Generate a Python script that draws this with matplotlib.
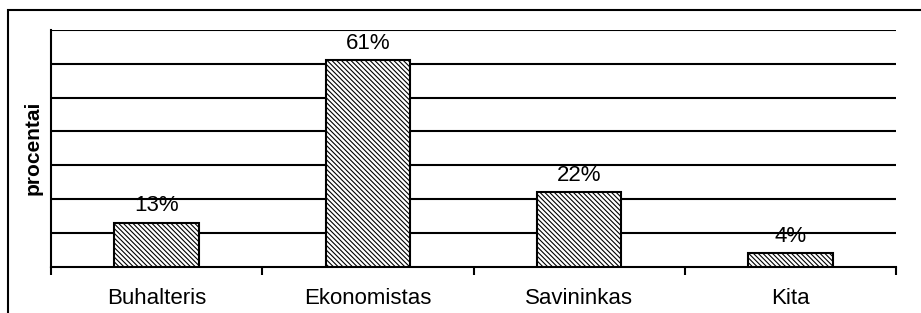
import matplotlib
matplotlib.use("Agg")
import matplotlib.pyplot as plt
from matplotlib.patches import Rectangle

categories = ["Buhalteris", "Ekonomistas", "Savininkas", "Kita"]
values = [13, 61, 22, 4]
value_labels = ["13%", "61%", "22%", "4%"]
y_label = "procentai"

plt.rcParams['font.family'] = ['Liberation Sans', 'DejaVu Sans']
plt.rcParams['hatch.linewidth'] = 0.8

W, H = 921, 313
fig = plt.figure(figsize=(W/100, H/100), dpi=100)
ax = fig.add_axes([51/W, 1-266.7/H, (896-51)/W, (266.7-30)/H])

x = list(range(len(categories)))
bars = ax.bar(x, values, width=0.40, color='white', edgecolor='black',
              linewidth=1.5, hatch='\\' * 7, zorder=3)

ax.set_xlim(-0.5, len(categories)-0.5)
ax.set_ylim(0, 70)
ax.set_yticks(range(10, 71, 10))
ax.yaxis.grid(True, color='black', linewidth=1.5)
ax.set_axisbelow(True)
ax.tick_params(axis='y', length=0, labelleft=False)

ax.set_xticks([i + 0.5 for i in range(-1, len(categories))])
ax.set_xticklabels([])
ax.tick_params(axis='x', which='major', direction='out', length=5.5, width=1.5)
ax.set_xticks(x, minor=True)
ax.set_xticklabels(categories, minor=True, fontsize=16)
ax.tick_params(axis='x', which='minor', length=0, pad=15)

for s in ['top', 'right']:
    ax.spines[s].set_visible(False)
for s in ['left', 'bottom']:
    ax.spines[s].set_linewidth(1.5)

for b, lab in zip(bars, value_labels):
    ax.annotate(lab, (b.get_x() + b.get_width()/2, b.get_height()),
                xytext=(0, 4.5), textcoords='offset points',
                ha='center', va='bottom', fontsize=16)

fig.text(33/W, 1-148/H, y_label, rotation=90, fontsize=15, fontweight='bold',
         ha='center', va='center')

fig.add_artist(Rectangle((8/W, -0.1), 1.2, 1-10/H+0.1, transform=fig.transFigure,
                         fill=False, edgecolor='black', linewidth=1.5))

fig.savefig("out.png", dpi=100)
